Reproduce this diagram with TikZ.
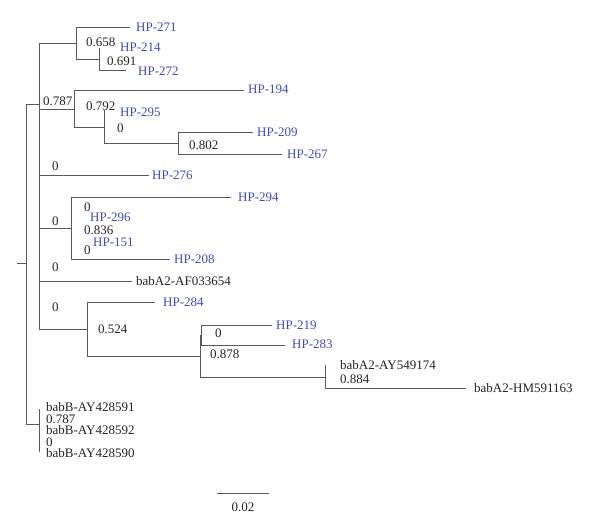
\documentclass[tikz,border=0pt]{standalone}
\usepackage{fontspec}
\setmainfont{Liberation Serif}
\definecolor{hpblue}{RGB}{66,76,178}
\definecolor{edgegray}{RGB}{90,90,90}
\definecolor{txt}{RGB}{35,35,35}
\begin{document}
\begin{tikzpicture}[x=1pt,y=-1pt,
  edge/.style={draw=edgegray,line width=0.9pt},
  lab/.style={anchor=west,inner sep=0pt,font=\fontsize{13}{13}\selectfont},
  hp/.style={lab,text=hpblue},
  refl/.style={lab,text=txt},
  bs/.style={lab,text=txt}]
\useasboundingbox (0,0) rectangle (600,531);
% internal nodes
\coordinate (R) at (26,263);
\coordinate (Rt) at (17,263);
\coordinate (U) at (39,104);
\coordinate (B) at (39,424);
\coordinate (C1) at (76,43);
\coordinate (C2) at (99,59);
\coordinate (C3) at (74,109);
\coordinate (C4) at (104,127);
\coordinate (C5) at (178,143);
\coordinate (C6) at (71,228);
\coordinate (C7) at (87,329);
\coordinate (C8) at (200,356);
\coordinate (C9) at (201,335);
\coordinate (C10) at (325,377);
% tips
\coordinate (t271) at (130,27);
\coordinate (t214) at (99,48);
\coordinate (t272) at (126,70);
\coordinate (t194) at (244,90);
\coordinate (t295) at (104,110);
\coordinate (t209) at (253,132);
\coordinate (t267) at (282,154);
\coordinate (t276) at (149,175);
\coordinate (t294) at (231,197);
\coordinate (t208) at (170,259);
\coordinate (tAF) at (132,281);
\coordinate (t284) at (155,302);
\coordinate (t219) at (272,325);
\coordinate (t283) at (285,345);
\coordinate (tAY) at (325,365);
\coordinate (tHM) at (466,388);
\coordinate (tB1) at (39,409);
\coordinate (tB2) at (39,452);
% edges
\draw[edge] (R) -- (Rt);
\draw[edge] (R) |- (U);
\draw[edge] (R) |- (B);
\draw[edge] (U) |- (C1);
\draw[edge] (U) |- (C3);
\draw[edge] (U) |- (t276);
\draw[edge] (U) |- (C6);
\draw[edge] (U) |- (tAF);
\draw[edge] (U) |- (C7);
\draw[edge] (C1) |- (t271);
\draw[edge] (C1) |- (C2);
\draw[edge] (C2) |- (t214);
\draw[edge] (C2) |- (t272);
\draw[edge] (C3) |- (t194);
\draw[edge] (C3) |- (C4);
\draw[edge] (C4) |- (t295);
\draw[edge] (C4) |- (C5);
\draw[edge] (C5) |- (t209);
\draw[edge] (C5) |- (t267);
\draw[edge] (C6) |- (t294);
\draw[edge] (C6) |- (t208);
\draw[edge] (C7) |- (t284);
\draw[edge] (C7) |- (C8);
\draw[edge] (C8) |- (C9);
\draw[edge] (C9) |- (t219);
\draw[edge] (C9) |- (t283);
\draw[edge] (C8) |- (C10);
\draw[edge] (C10) |- (tAY);
\draw[edge] (C10) |- (tHM);
\draw[edge] (B) |- (tB1);
\draw[edge] (B) |- (tB2);
% leaf labels
\node[hp] (l271) at (136,27) {HP-271};
\node[hp] (l214) at (120,47) {HP-214};
\node[hp] (l272) at (138,71) {HP-272};
\node[hp] (l194) at (248,89) {HP-194};
\node[hp] (l295) at (120,112) {HP-295};
\node[hp] (l209) at (257,132) {HP-209};
\node[hp] (l267) at (287,154) {HP-267};
\node[hp] (l276) at (152,175) {HP-276};
\node[hp] (l294) at (238,197) {HP-294};
\node[hp] (l296) at (90,217) {HP-296};
\node[hp] (l151) at (93,242) {HP-151};
\node[hp] (l208) at (174,259) {HP-208};
\node[refl] (lAF) at (136,281) {babA2-AF033654};
\node[hp] (l284) at (163,302) {HP-284};
\node[hp] (l219) at (276,325) {HP-219};
\node[hp] (l283) at (292,344) {HP-283};
\node[refl] (lAY) at (340,365) {babA2-AY549174};
\node[refl] (lHM) at (474,388) {babA2-HM591163};
\node[refl,anchor=north west,align=left,font=\fontsize{13}{11.5}\selectfont] (lB) at (46,402.5)
  {babB-AY428591\\0.787\\babB-AY428592\\0\\babB-AY428590};
% support values
\node[bs] (b1) at (86,42) {0.658};
\node[bs] (b2) at (107,61) {0.691};
\node[bs] (b3) at (43,101) {0.787};
\node[bs] (b4) at (86,106) {0.792};
\node[bs] (b5) at (117,128) {0};
\node[bs] (b6) at (189,145) {0.802};
\node[bs] (b7) at (52,166) {0};
\node[bs] (b8) at (84,207) {0};
\node[bs] (b9) at (52,221) {0};
\node[bs] (b10) at (84,230) {0.836};
\node[bs] (b11) at (84,250) {0};
\node[bs] (b12) at (52,267) {0};
\node[bs] (b13) at (52,307) {0};
\node[bs] (b14) at (98,329) {0.524};
\node[bs] (b15) at (215,333) {0};
\node[bs] (b16) at (210,354) {0.878};
\node[bs] (b17) at (340,379) {0.884};
% scale bar
\coordinate (sL) at (217,493);
\coordinate (sR) at (269,493);
\draw[edge] (sL) -- (sR);
\node[bs,anchor=center] (sc) at (243,507) {0.02};
\end{tikzpicture}
\end{document}
